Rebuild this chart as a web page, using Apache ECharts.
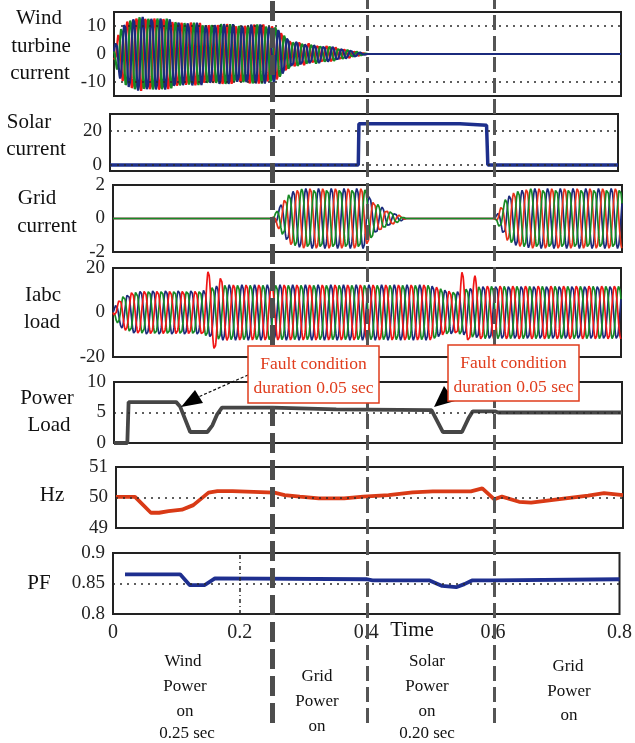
<!DOCTYPE html>
<html><head><meta charset="utf-8">
<script src="https://cdn.jsdelivr.net/npm/echarts@6/dist/echarts.min.js"></script>
<style>html,body{margin:0;padding:0;background:#fff}#c{width:635px;height:743px}</style>
</head><body><div id="c"></div>
<script>
// ---------------- data ----------------
const timeMax = 0.8;
const xTickValues = [0, 0.2, 0.4, 0.6, 0.8];
const switchTimes = [0.247, 0.395, 0.597];

// Wind turbine current: envelope of the three-phase current
const windEnvT = [0, 0.004, 0.01, 0.02, 0.035, 0.05, 0.07, 0.09, 0.12, 0.16, 0.2, 0.25, 0.26, 0.27, 0.28, 0.3, 0.32, 0.35, 0.37, 0.39, 0.4, 0.8];
const windEnvA = [2, 5, 9, 12, 13, 13.3, 13.2, 12.3, 11.3, 10.8, 10.6, 10.5, 8.5, 6.5, 5, 4, 3.4, 2.4, 1.5, 0.5, 0, 0];
const windFreq = 70;
const windTicks = [-10, 0, 10];

// Solar current
const solarT = [0, 0.391, 0.392, 0.551, 0.552, 0.593, 0.595, 0.8];
const solarV = [0, 0, 24.2, 24.2, 23.4, 23.4, 0, 0];
const solarTicks = [0, 20];

// Grid current envelope
const gridEnvT = [0, 0.25, 0.26, 0.27, 0.28, 0.3, 0.395, 0.41, 0.43, 0.45, 0.46, 0.6, 0.61, 0.62, 0.635, 0.66, 0.8];
const gridEnvA = [0, 0, 0.6, 1.2, 1.6, 1.8, 1.8, 1.0, 0.5, 0.2, 0, 0, 0.7, 1.35, 1.65, 1.8, 1.8];
const gridFreq = 50;
const gridTicks = [-2, 0, 2];

// Iabc load envelope + extra amplitude of phase a during the faults
const loadEnvT = [0, 0.005, 0.015, 0.03, 0.05, 0.14, 0.15, 0.17, 0.2, 0.5, 0.52, 0.54, 0.56, 0.58, 0.6, 0.8];
const loadEnvA = [0, 4, 7.5, 9.5, 10, 10, 11, 12.5, 12.5, 12.5, 10.5, 9.5, 11, 12, 12, 12];
const loadFaultT = [0, 0.14, 0.15, 0.16, 0.17, 0.18, 0.54, 0.55, 0.56, 0.57, 0.58, 0.8];
const loadFaultA = [0, 0, 8, 5, 3.5, 0, 0, 8.5, 2, 5, 0, 0];
const loadFreq = 50;
const loadTicks = [-20, 0, 20];

// Power load
const powerT = [0, 0.021, 0.023, 0.098, 0.104, 0.12, 0.147, 0.155, 0.162, 0.17, 0.25, 0.35, 0.5, 0.518, 0.548, 0.558, 0.565, 0.6, 0.605, 0.8];
const powerV = [0, 0, 6.7, 6.7, 6.0, 1.8, 1.8, 2.9, 4.6, 5.8, 5.8, 5.5, 5.4, 1.8, 1.8, 4.0, 5.2, 5.2, 5.0, 5.0];
const powerTicks = [0, 5, 10];

// Frequency (Hz)
const hzT = [0, 0.03, 0.055, 0.068, 0.083, 0.104, 0.122, 0.146, 0.16, 0.184, 0.25, 0.266, 0.29, 0.32, 0.36, 0.39, 0.43, 0.468, 0.5, 0.56, 0.578, 0.597, 0.609, 0.636, 0.655, 0.69, 0.745, 0.77, 0.8];
const hzV = [50.02, 50.02, 49.5, 49.5, 49.55, 49.6, 49.75, 50.16, 50.21, 50.21, 50.16, 50.08, 50.03, 49.97, 49.97, 50.03, 50.08, 50.17, 50.2, 50.2, 50.3, 49.94, 50.03, 49.86, 49.83, 49.92, 50.06, 50.14, 50.08];
const hzTicks = [49, 50, 51];

// Power factor
const pfT = [0.019, 0.106, 0.121, 0.145, 0.161, 0.4, 0.41, 0.5, 0.52, 0.542, 0.555, 0.567, 0.6, 0.8];
const pfV = [0.865, 0.865, 0.8475, 0.8475, 0.8585, 0.857, 0.855, 0.855, 0.846, 0.844, 0.849, 0.855, 0.855, 0.857];
const pfTicks = [0.8, 0.85, 0.9];

// ---------------- helpers ----------------
function interp(T, A, t) {
  if (t <= T[0]) return A[0];
  for (let i = 1; i < T.length; i++) {
    if (t <= T[i]) { const f = (t - T[i-1]) / (T[i] - T[i-1] || 1); return A[i-1] + f * (A[i] - A[i-1]); }
  }
  return A[A.length - 1];
}
function wave(T, A, freq, phase, dt, bT, bA) {
  const out = []; const n = Math.round(timeMax / dt);
  for (let i = 0; i <= n; i++) {
    const t = i * dt; let a = interp(T, A, t); if (bT) a += interp(bT, bA, t);
    out.push([t, a * Math.sin(2 * Math.PI * freq * t + phase)]);
  }
  return out;
}
const zip = (T, V) => T.map((t, i) => [t, V[i]]);
const PH = { a: -Math.PI/2, b: -Math.PI/2 - 2*Math.PI/3, c: -Math.PI/2 + 2*Math.PI/3 };
const RED = '#f01616', GREEN = '#178a25', BLUE = '#1b2a7c';
const FONT = '"Liberation Serif","Times New Roman",serif';

const dotted = { color: '#2a2a2a', width: 1.6, type: [2, 5] };
function hLines(vals) {
  return { silent: true, symbol: 'none', label: { show: false }, animation: false,
    lineStyle: dotted, data: vals.map(v => ({ yAxis: v })) };
}

// ---------------- layout ----------------
const boxes = [
  { left: 114, right: 14, top: 12, height: 84, min: -15, max: 15, ticks: windTicks },
  { left: 110, right: 17, top: 114, height: 57, min: -3.5, max: 30, ticks: solarTicks },
  { left: 113, right: 13, top: 185, height: 67, min: -2, max: 2, ticks: gridTicks },
  { left: 113, right: 14, top: 268, height: 89, min: -20, max: 20, ticks: loadTicks },
  { left: 114, right: 13, top: 382, height: 61, min: 0, max: 10, ticks: powerTicks },
  { left: 116, right: 12, top: 467, height: 61, min: 49, max: 51, ticks: hzTicks },
  { left: 113, right: 14, top: 553, height: 61, min: 0.8, max: 0.9, ticks: pfTicks }
];
const grid = boxes.map(b => ({ left: b.left, right: b.right, top: b.top, height: b.height,
  show: true, borderColor: '#222', borderWidth: 2, backgroundColor: 'transparent' }));
grid.push({ left: 113, right: 14, top: 0, bottom: 20 });

const xAxis = boxes.map((b, i) => ({ type: 'value', gridIndex: i, min: 0, max: timeMax,
  show: i === 6, axisLine: { show: false }, axisTick: { show: false }, splitLine: { show: false },
  axisLabel: { show: i === 6, customValues: xTickValues, margin: 9, fontSize: 20, fontFamily: FONT, color: '#222',
    formatter: v => String(+v.toFixed(1)) } }));
xAxis.push({ type: 'value', gridIndex: 7, min: 0, max: timeMax, show: false });

const yAxis = boxes.map((b, i) => ({ type: 'value', gridIndex: i, min: b.min, max: b.max,
  axisLine: { show: false }, axisTick: { show: false }, splitLine: { show: false },
  axisLabel: { customValues: b.ticks, margin: 8, fontSize: 19, fontFamily: FONT, color: '#222',
    formatter: v => String(+(+v).toFixed(2)) } }));
yAxis.push({ type: 'value', gridIndex: 7, min: 0, max: 1, show: false });

function ln(idx, data, color, width, extra) {
  return Object.assign({ type: 'line', xAxisIndex: idx, yAxisIndex: idx, data, showSymbol: false, symbol: 'none',
    lineStyle: { color, width }, animation: false, silent: true, sampling: false, z: 2 }, extra || {});
}

const series = [
  ln(0, wave(windEnvT, windEnvA, windFreq, PH.a, 0.0004), RED, 2.2, { markLine: hLines([10, -10]) }),
  ln(0, wave(windEnvT, windEnvA, windFreq, PH.b, 0.0004), GREEN, 2.2),
  ln(0, wave(windEnvT, windEnvA, windFreq, PH.c, 0.0004), BLUE, 2.2),
  ln(1, zip(solarT, solarV), '#1d2f8c', 3.5, { markLine: hLines([20, 0]) }),
  ln(2, wave(gridEnvT, gridEnvA, gridFreq, PH.c, 0.0005), BLUE, 1.7),
  ln(2, wave(gridEnvT, gridEnvA, gridFreq, PH.a, 0.0005), '#e8321a', 1.7),
  ln(2, wave(gridEnvT, gridEnvA, gridFreq, PH.b, 0.0005), GREEN, 1.7),
  ln(3, wave(loadEnvT, loadEnvA, loadFreq, PH.c, 0.0005), BLUE, 1.7),
  ln(3, wave(loadEnvT, loadEnvA, loadFreq, PH.b, 0.0005), GREEN, 1.7),
  ln(3, wave(loadEnvT, loadEnvA, loadFreq, PH.a, 0.0005, loadFaultT, loadFaultA), RED, 1.7),
  ln(4, zip(powerT, powerV), '#464646', 3.8, { markLine: hLines([5]) }),
  ln(5, zip(hzT, hzV), '#d93a16', 3.8, { markLine: hLines([50]) }),
  ln(6, zip(pfT, pfV), '#1e2f8f', 3.8, { markLine: { silent: true, symbol: 'none', label: { show: false }, animation: false,
      lineStyle: dotted, data: [{ yAxis: 0.85 }, { xAxis: 0.2, lineStyle: { color: '#2a2a2a', width: 1.5, type: [4, 3, 1, 3] } }] } }),
  ln(7, [[0, 0.5]], 'rgba(0,0,0,0)', 0, { z: 20, markLine: { silent: true, symbol: 'none', label: { show: false }, animation: false,
      data: [
        { xAxis: switchTimes[0], lineStyle: { color: '#4d4d4d', width: 5, type: [20, 7] } },
        { xAxis: switchTimes[1], lineStyle: { color: '#555', width: 3, type: [15, 6] } },
        { xAxis: switchTimes[2], lineStyle: { color: '#555', width: 3, type: [15, 6] } }
      ] } })
];

// ---------------- text / annotations ----------------
function txt(x, y, text, size, color, z) {
  return { type: 'text', x, y, z: z || 50, silent: true,
    style: { text, font: size + 'px ' + FONT, fill: color || '#111', align: 'center', verticalAlign: 'middle' } };
}
const titleLines = [
  [39, 18, 'Wind'], [41, 46, 'turbine'], [40, 73, 'current'],
  [29, 122, 'Solar'], [36, 149, 'current'],
  [37, 198, 'Grid'], [47, 226, 'current'],
  [43, 295, 'Iabc'], [42, 322, 'load'],
  [47, 398, 'Power'], [49, 425, 'Load'],
  [52, 495, 'Hz'],
  [39, 583, 'PF']
];
const bottomLines = [
  [183, 662, 'Wind'], [185, 687, 'Power'], [185, 712, 'on'], [187, 734, '0.25 sec'],
  [317, 677, 'Grid'], [317, 702, 'Power'], [317, 727, 'on'],
  [427, 662, 'Solar'], [427, 687, 'Power'], [427, 712, 'on'], [427, 734, '0.20 sec'],
  [568, 667, 'Grid'], [569, 692, 'Power'], [569, 716, 'on']
];
const ANN = '#e03c1c';
const graphic = [];
titleLines.forEach(l => graphic.push(txt(l[0], l[1], l[2], 21)));
bottomLines.forEach(l => graphic.push(txt(l[0], l[1], l[2], 17)));
graphic.push(txt(412, 630, 'Time', 21));
// arrows
graphic.push({ type: 'line', z: 60, silent: true, shape: { x1: 248, y1: 375, x2: 196, y2: 398 }, style: { stroke: '#111', lineWidth: 1.2, lineDash: [3, 2] } });
graphic.push({ type: 'polygon', z: 60, silent: true, shape: { points: [[181, 407], [195, 390], [203, 403]] }, style: { fill: '#000' } });
graphic.push({ type: 'line', z: 60, silent: true, shape: { x1: 450, y1: 390, x2: 440, y2: 400 }, style: { stroke: '#111', lineWidth: 1.2 } });
graphic.push({ type: 'polygon', z: 60, silent: true, shape: { points: [[434, 407], [444, 386], [455, 401]] }, style: { fill: '#000' } });
// boxes
[[248, 346, 131, 57], [448, 345, 131, 56]].forEach(b => {
  graphic.push({ type: 'rect', z: 70, silent: true, shape: { x: b[0], y: b[1], width: b[2], height: b[3] }, style: { fill: '#fff', stroke: ANN, lineWidth: 1.5 } });
  graphic.push(txt(b[0] + b[2] / 2, b[1] + 18, 'Fault condition', 17.5, ANN, 71));
  graphic.push(txt(b[0] + b[2] / 2, b[1] + 42, 'duration 0.05 sec', 17.5, ANN, 71));
});

const chart = echarts.init(document.getElementById('c'), null, { renderer: 'canvas' });
chart.setOption({ animation: false, backgroundColor: '#fff', grid, xAxis, yAxis, series, graphic });
</script></body></html>
